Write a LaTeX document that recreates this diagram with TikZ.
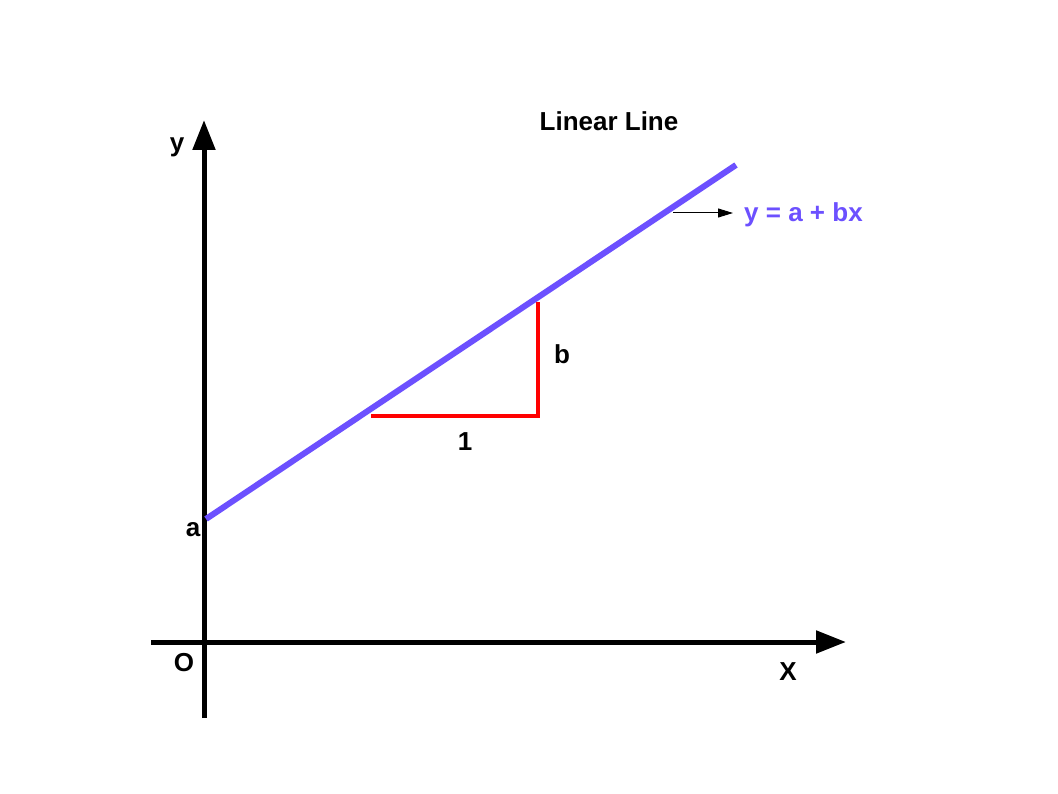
\documentclass[tikz,border=0pt]{standalone}
\usepackage{fontspec}
\setmainfont{Liberation Sans}
\usetikzlibrary{arrows.meta}
\definecolor{lineblue}{RGB}{108,80,255}
\tikzset{
  axis/.style={line width=5pt, -{Triangle[length=30pt,width=22pt]}},
  lbl/.style={font=\fontsize{26}{30}\selectfont\bfseries, inner sep=0pt},
  redline/.style={red, line width=4pt},
}
\begin{document}
\begin{tikzpicture}[x=1pt,y=-1pt]
\useasboundingbox (0,0) rectangle (1058,794);
\fill[white] (0,0) rectangle (1058,794);
% axes
\coordinate (ybot) at (204,718);
\coordinate (ytop) at (204,120);
\coordinate (xleft) at (151,642);
\coordinate (xright) at (846,642);
\draw[axis] (ybot) -- (ytop);
\draw[axis] (xleft) -- (xright);
% linear line
\coordinate (l0) at (206,519);
\coordinate (l1) at (736,165);
\draw[lineblue, line width=6pt] (l0) -- (l1);
% triangle
\coordinate (t0) at (371,416);
\coordinate (t1) at (538,416);
\coordinate (t2) at (538,302);
\draw[redline] (t0) -- (t1) -- (t2);
% labels
\node[lbl] (title) at (609,121) {Linear Line};
\node[lbl, text=lineblue, anchor=west] (eq) at (744,215) {y = a + bx};
\coordinate (arrs) at (673,213);
\coordinate (arre) at (733,213);
\draw[line width=1pt, -{Triangle[length=15pt,width=9pt]}] (arrs) -- (arre);
\node[lbl] (ylbl) at (177,147) {y};
\node[lbl] (albl) at (193,530) {a};
\node[lbl] (olbl) at (184,663) {O};
\node[lbl] (xlbl) at (788,672) {X};
\node[lbl] (one) at (465,442) {1};
\node[lbl] (blbl) at (562,354) {b};
\end{tikzpicture}
\end{document}
